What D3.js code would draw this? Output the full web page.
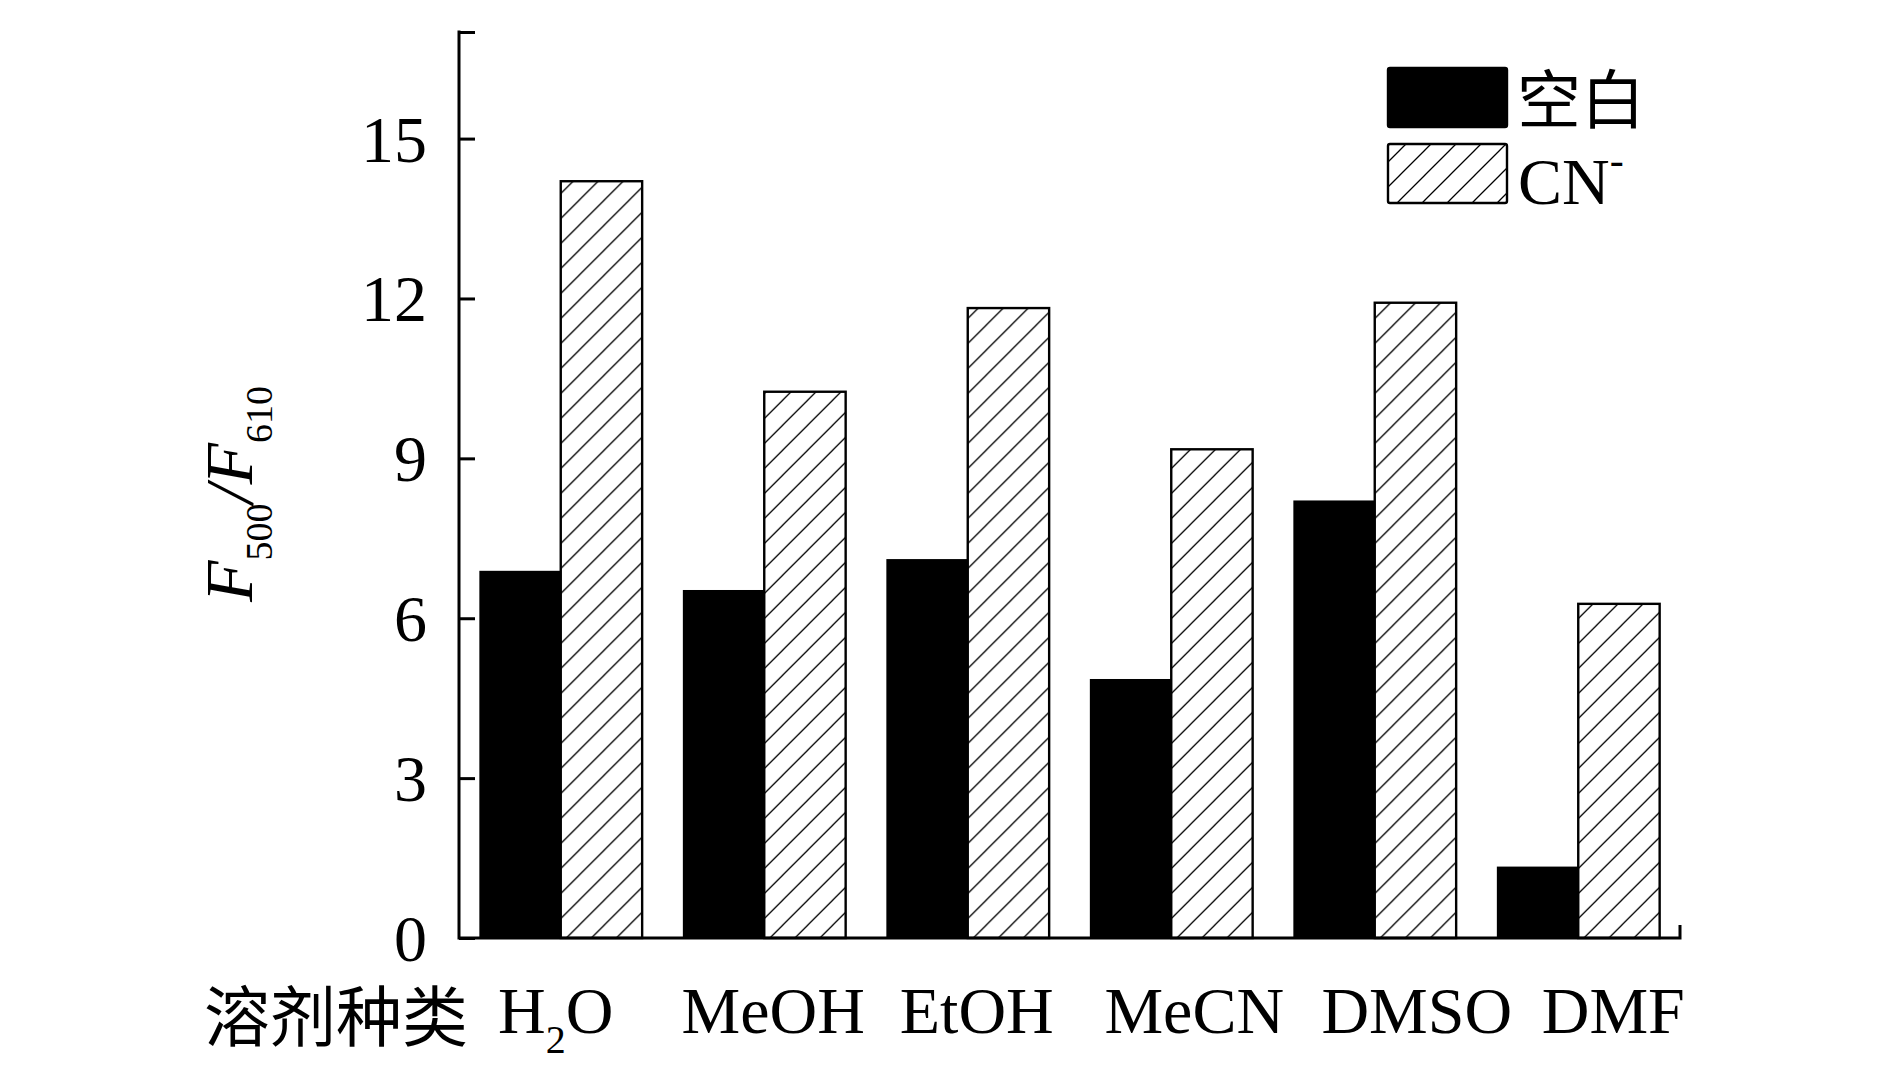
<!DOCTYPE html>
<html>
<head>
<meta charset="utf-8">
<script src="https://cdn.jsdelivr.net/npm/d3@7"></script>
<style>
    html, body { margin: 0; padding: 0; background: #fff; }
    text { font-family: "Liberation Serif", "Times New Roman", "Noto Sans CJK SC", serif; fill: #000; }
    .cjk { font-family: "Liberation Serif", "Noto Sans CJK SC", serif; }
</style>
</head>
<body>
<div id="chart"></div>
<script>
// Data
const solvents = ["H2O", "MeOH", "EtOH", "MeCN", "DMSO", "DMF"];
const seriesNames = ["空白", "CN-"];
const blankValues = [6.89, 6.53, 7.11, 4.86, 8.21, 1.34];
const cnValues = [14.2, 10.25, 11.82, 9.17, 11.92, 6.27];
const yTicks = [0, 3, 6, 9, 12, 15, 17];
const yTickLabels = ["0", "3", "6", "9", "12", "15", ""];

// Layout
const WIDTH = 1890, HEIGHT = 1087;
const X0 = 459, X1 = 1680, Y0 = 938, Y1 = 32;
const FONT = 66;
// labels under the axis were typed as one line in the original, so they drift off the group centres
const labelShift = [-5, 9, 9, 23, 42, 35];

const svg = d3.select("#chart").append("svg")
    .attr("width", WIDTH)
    .attr("height", HEIGHT);

// Hatch fill for the CN- series
const defs = svg.append("defs");
defs.append("pattern")
    .attr("id", "hatch")
    .attr("patternUnits", "userSpaceOnUse")
    .attr("width", 25)
    .attr("height", 25)
  .append("path")
    .attr("d", "M-3,3 l6,-6 M0,25 l25,-25 M22,28 l6,-6")
    .attr("stroke", "#000")
    .attr("stroke-width", 1.3);

const x = d3.scaleBand()
    .domain(solvents)
    .range([X0, X1])
    .paddingInner(0.2)
    .paddingOuter(0.1);

const xSub = d3.scaleBand()
    .domain([0, 1])
    .range([0, x.bandwidth()]);

const y = d3.scaleLinear()
    .domain([0, 17])
    .range([Y0, Y1]);

const rows = solvents.map((s, i) => ({ key: s, values: [blankValues[i], cnValues[i]] }));

// Bars
const groups = svg.append("g")
    .selectAll("g")
    .data(rows)
    .enter().append("g")
        .attr("transform", d => "translate(" + x(d.key) + ",0)");

groups.append("rect")
    .attr("x", xSub(0))
    .attr("y", d => y(d.values[0]))
    .attr("width", xSub.bandwidth())
    .attr("height", d => y(0) - y(d.values[0]))
    .attr("fill", "#000");

groups.append("rect")
    .attr("x", xSub(1))
    .attr("y", d => y(d.values[1]))
    .attr("width", xSub.bandwidth())
    .attr("height", d => y(0) - y(d.values[1]))
    .attr("fill", "url(#hatch)")
    .attr("stroke", "#000")
    .attr("stroke-width", 2.4);

// Y axis, ticks pointing inwards
const yAxis = svg.append("g")
    .attr("transform", "translate(" + X0 + ",0)")
    .call(d3.axisRight(y)
        .tickValues(yTicks)
        .tickSize(16)
        .tickFormat((d, i) => yTickLabels[i]))
    .attr("font-family", "Liberation Serif")
    .attr("font-size", FONT);
yAxis.select(".domain").remove();
yAxis.selectAll(".tick line").attr("stroke", "#000").attr("stroke-width", 3);
yAxis.selectAll(".tick text")
    .attr("x", -32)
    .attr("dy", "0.34em")
    .attr("text-anchor", "end")
    .style("font-size", FONT + "px")
    .style("font-family", "'Liberation Serif', serif");

svg.append("line")
    .attr("x1", X0).attr("x2", X0)
    .attr("y1", y(17) - 1.5).attr("y2", y(0) + 1.5)
    .attr("stroke", "#000")
    .attr("stroke-width", 3);

// X axis line with the small end stub
svg.append("path")
    .attr("d", "M" + X0 + "," + y(0) + "H" + X1 + "V" + (y(0) - 13))
    .attr("fill", "none")
    .attr("stroke", "#000")
    .attr("stroke-width", 3);

// Category labels
const catY = 1033;
const labels = svg.append("g")
    .selectAll("text")
    .data(solvents)
    .enter().append("text")
        .attr("x", (d, i) => x(d) + x.bandwidth() / 2 + labelShift[i])
        .attr("y", catY)
        .attr("text-anchor", "middle")
        .style("font-size", FONT + "px");

labels.each(function (d) {
    const t = d3.select(this);
    if (d === "H2O") {
        t.append("tspan").text("H");
        t.append("tspan").attr("dy", 20).style("font-size", "40px").text("2");
        t.append("tspan").attr("dy", -20).text("O");
    } else {
        t.text(d);
    }
});

svg.append("text")
    .attr("class", "cjk")
    .attr("x", 468)
    .attr("y", 1041)
    .attr("text-anchor", "end")
    .style("font-size", "66px")
    .text("溶剂种类");

// Y axis title: F500/F610
const yTitle = svg.append("text")
    .attr("transform", "translate(252,494) rotate(-90)")
    .attr("text-anchor", "middle")
    .style("font-size", "68px");
yTitle.append("tspan").style("font-style", "italic").text("F");
yTitle.append("tspan").attr("dy", 20).style("font-size", "38px").text("500");
yTitle.append("tspan").attr("dy", -20).style("font-style", "italic").text("/F");
yTitle.append("tspan").attr("dy", 20).style("font-size", "38px").text("610");

// Legend
const legend = svg.append("g");
const swatchX = 1388, swatchW = 119, swatchH = 59;
const legendRows = [68, 144];

legend.selectAll("rect")
    .data(seriesNames)
    .enter().append("rect")
        .attr("x", swatchX)
        .attr("y", (d, i) => legendRows[i])
        .attr("width", swatchW)
        .attr("height", swatchH)
        .attr("rx", 2)
        .attr("fill", (d, i) => i === 0 ? "#000" : "url(#hatch)")
        .attr("stroke", "#000")
        .attr("stroke-width", 2.4);

legend.append("text")
    .attr("class", "cjk")
    .attr("x", 1517)
    .attr("y", legendRows[0] + 55)
    .style("font-size", "64px")
    .text(seriesNames[0]);

const cnText = legend.append("text")
    .attr("x", 1518)
    .attr("y", legendRows[1] + 60)
    .style("font-size", FONT + "px");
cnText.append("tspan").text("CN");
cnText.append("tspan").attr("dy", -30).style("font-size", "42px").text("-");
</script>
</body>
</html>
